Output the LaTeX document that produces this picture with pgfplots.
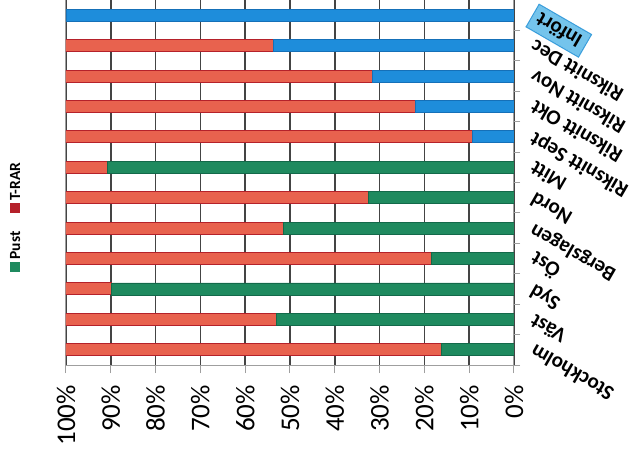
\documentclass[border=0pt]{standalone}
\usepackage{fontspec}
\setmainfont{Carlito}
\usepackage{pgfplots}
\usepackage{pgfplotstable}
\pgfplotsset{compat=1.18}

\definecolor{pustgreen}{HTML}{1F8A5F}
\definecolor{pustedge}{HTML}{13694A}
\definecolor{rarred}{HTML}{E8624E}
\definecolor{raredge}{HTML}{B5212A}
\definecolor{infblue}{HTML}{1E8DDB}
\definecolor{infedge}{HTML}{1570B8}
\definecolor{hlfill}{HTML}{74C4EC}
\definecolor{hledge}{HTML}{3A9FDC}
\definecolor{gridgray}{HTML}{444444}
\setlength{\fboxsep}{5pt}
\setlength{\fboxrule}{1.2pt}

% rows bottom to top: Stockholm ... Infört, values in percent
\pgfplotstableread{
row pust inf trar
0  16.1   0.0  83.9
1  53.0   0.0  47.0
2  89.8   0.0  10.2
3  18.4   0.0  81.6
4  51.5   0.0  48.5
5  32.5   0.0  67.5
6  90.8   0.0   9.2
7   0.0   9.2  90.8
8   0.0  21.9  78.1
9   0.0  31.5  68.5
10  0.0  53.6  46.4
11  0.0 100.0   0.0
}\data

\begin{document}
\begin{tikzpicture}
\clip (0pt,0pt) rectangle (637pt,450pt);
\begin{axis}[
    at={(66pt,85pt)}, anchor=south west,
    scale only axis,
    width=448pt, height=365pt,
    xbar stacked,
    bar width=12pt,
    x dir=reverse,
    xmin=0, xmax=100,
    ymin=-0.5, ymax=11.5,
    xtick={0,10,20,30,40,50,60,70,80,90,100},
    xticklabel={\pgfmathprintnumber{\tick}\%},
    /pgf/number format/assume math mode=true,
    xtick pos=left,
    tick align=outside,
    major tick length=8pt,
    xmajorgrids=true,
    major grid style={draw=gridgray, line width=1.6pt},
    axis line style={draw=gray!75, line width=1pt},
    tick style={draw=gray!75, line width=1pt},
    xticklabel style={rotate=90, anchor=east, inner sep=0pt,
        font=\fontsize{27}{30}\selectfont},
    xticklabel shift=12pt,
    ytick={0,...,11},
    yticklabels={Stockholm,Väst,Syd,Öst,Bergslagen,Nord,Mitt,
        Riksnitt Sept,Riksnitt Okt,Riksnitt Nov,Riksnitt Dec,
        {\fcolorbox{hledge}{hlfill}{Infört}}},
    ytick pos=right,
    yticklabel pos=right,
    every major y tick/.style={draw=none},
    minor ytick={-0.5,0.5,...,11.5},
    minor tick length=6pt,
    yticklabel style={rotate=150, anchor=east, inner sep=0pt,
        font=\fontsize{21}{24}\selectfont\bfseries},
    yticklabel shift=10pt,
    reverse legend,
    legend columns=1,
    legend plot pos=none,
    legend style={at={(axis description cs:-0.112,0.405)}, anchor=center,
        draw=none, fill=none,
        nodes={rotate=90, inner sep=1pt},
        row sep=16pt,
        font=\fontsize{15.5}{17}\selectfont\bfseries},
]
\addplot[forget plot, fill=infblue, draw=infedge, line width=0.8pt]
    table[x=inf, y=row] {\data};
\addplot[fill=pustgreen, draw=pustedge, line width=0.8pt]
    table[x=pust, y=row] {\data};
\addlegendentry{\textcolor{pustgreen}{\rule{10pt}{10pt}}\,Pust}
\addplot[fill=rarred, draw=raredge, line width=1pt]
    table[x=trar, y=row] {\data};
\addlegendentry{\textcolor{raredge}{\rule{10pt}{10pt}}\,T-RAR}
\end{axis}
\end{tikzpicture}
\end{document}
